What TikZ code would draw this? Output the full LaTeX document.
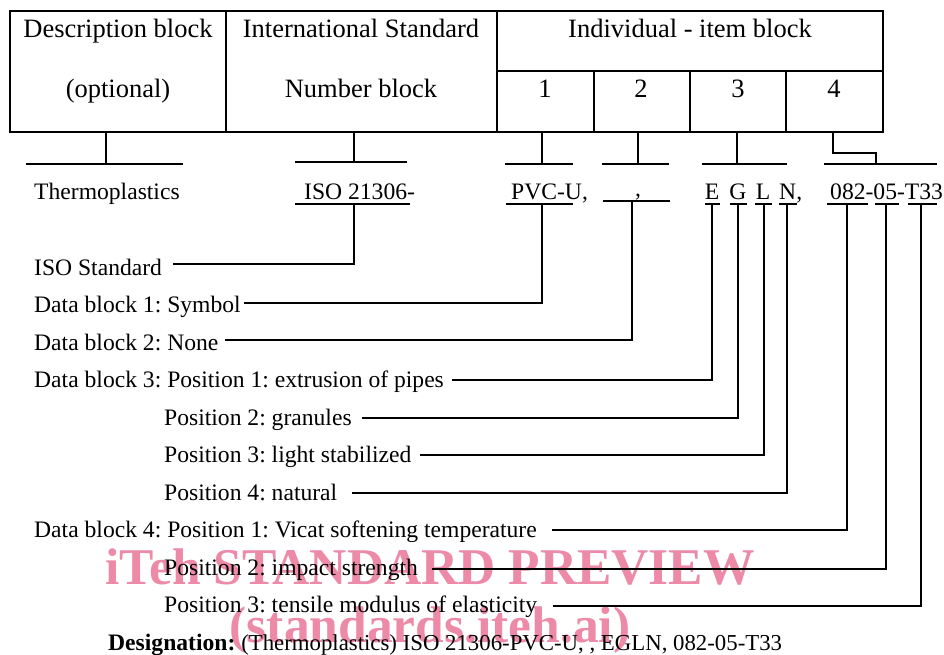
\documentclass[tikz,border=0pt]{standalone}
\usepackage{fontspec}
\setmainfont{Liberation Serif}
\definecolor{wmpink}{RGB}{236,138,168}
\frenchspacing
\begin{document}
\frenchspacing
\begin{tikzpicture}[x=1pt,y=-1pt,
  lbl/.style={anchor=base west, inner sep=0, font=\fontsize{23.6}{26}\selectfont},
  ctr/.style={anchor=base, inner sep=0, font=\fontsize{23.6}{26}\selectfont},
  hd/.style={anchor=base, inner sep=0, font=\fontsize{26.5}{28}\selectfont},
  wm/.style={anchor=base, inner sep=0, text=wmpink, font=\fontsize{51.5}{54}\bfseries\selectfont},
  frame/.style={line width=2pt, line cap=rect},
  ln/.style={line width=1.6pt}]
\useasboundingbox (0,0) rectangle (944,654);

% watermark (underneath)
\node[wm] (wm1) at (430,584) {iTeh STANDARD PREVIEW};
\node[wm] (wm2) at (430,642) {(standards.iteh.ai)};

% table
\draw[frame] (10,11) rectangle (883,132);
\draw[frame] (226,11) -- (226,132);
\draw[frame] (497,11) -- (497,132);
\draw[frame] (497,71) -- (883,71);
\draw[frame] (594,71) -- (594,132);
\draw[frame] (690,71) -- (690,132);
\draw[frame] (786,71) -- (786,132);

\node[hd] (h1) at (118,37) {Description block};
\node[hd] (h2) at (118,97) {(optional)};
\node[hd] (h3) at (361,37) {International Standard};
\node[hd] (h4) at (361,97) {Number block};
\node[hd] (h5) at (690,37) {Individual - item block};
\node[hd] (n1) at (545,97) {1};
\node[hd] (n2) at (641,97) {2};
\node[hd] (n3) at (738,97) {3};
\node[hd] (n4) at (834,97) {4};

% brackets under table
\coordinate (t0) at (106,132); \coordinate (b0) at (106,164);
\coordinate (t1) at (354,132); \coordinate (b1) at (354,162);
\coordinate (t2) at (542,132); \coordinate (b2) at (542,164);
\coordinate (t3) at (638,132); \coordinate (b3) at (638,164);
\coordinate (t4) at (737,132); \coordinate (b4) at (737,164);
\coordinate (t5) at (833,132); \coordinate (b5) at (876,164);
\draw[ln] (t0) -- (b0); \draw[ln] (26,164) -- (183,164);
\draw[ln] (t1) -- (b1); \draw[ln] (295,162) -- (407,162);
\draw[ln] (t2) -- (b2); \draw[ln] (505,164) -- (573,164);
\draw[ln] (t3) -- (b3); \draw[ln] (602,164) -- (669,164);
\draw[ln] (t4) -- (b4); \draw[ln] (702,164) -- (787,164);
\draw[ln] (t5) -- (833,153) -- (876,153) -- (b5); \draw[ln] (824,164) -- (937,164);

% designation row
\node[lbl] (thermo) at (34,199) {Thermoplastics};
\node[lbl] (iso) at (304,199) {ISO 21306-};
\node[lbl] (pvc) at (511,199) {PVC-U,};
\node[ctr] (blk2) at (638,196) {,};
\node[ctr] (E) at (712,199) {E};
\node[ctr] (G) at (738,199) {G};
\node[ctr] (L) at (763,199) {L};
\node[lbl] (N) at (779,199) {N,};
\node[lbl] (code) at (830,199) {082-05-T33};

% underlines
\coordinate (uIso) at (354,204); \draw[ln] (295,204) -- (410,204);
\coordinate (uPvc) at (542,204); \draw[ln] (506,204) -- (573,204);
\coordinate (uB2) at (632,201);  \draw[ln] (603,201) -- (670,201);
\coordinate (uE) at (712,204);   \draw[ln] (705,204) -- (720,204);
\coordinate (uG) at (738,204);   \draw[ln] (730,204) -- (747,204);
\coordinate (uL) at (764,204);   \draw[ln] (755,204) -- (772,204);
\coordinate (uN) at (787,204);   \draw[ln] (779,204) -- (797,204);
\coordinate (uA) at (847,204);   \draw[ln] (827,204) -- (868,204);
\coordinate (uB) at (886,204);   \draw[ln] (875,204) -- (899,204);
\coordinate (uC) at (921,204);   \draw[ln] (908,204) -- (937,204);

% labels
\node[lbl] (l1) at (34,275) {ISO Standard};
\node[lbl] (l2) at (34,312.5) {Data block 1: Symbol};
\node[lbl] (l3) at (34,350) {Data block 2: None};
\node[lbl] (l4) at (34,387.5) {Data block 3: Position 1: extrusion of pipes};
\node[lbl] (l5) at (164,425) {Position 2: granules};
\node[lbl] (l6) at (164,462.5) {Position 3: light stabilized};
\node[lbl] (l7) at (164,500) {Position 4: natural};
\node[lbl] (l8) at (34,537.5) {Data block 4: Position 1: Vicat softening temperature};
\node[lbl] (l9) at (164,575) {Position 2: impact strength};
\node[lbl] (l10) at (164,612.5) {Position 3: tensile modulus of elasticity};
\node[lbl] (des) at (108,650) {\textbf{Designation:} {\fontsize{22.8}{26}\selectfont(Thermoplastics) ISO 21306-PVC-U, , EGLN, 082-05-T33}};

% leader lines
\coordinate (e1) at (173,264);  \draw[ln] (uIso) -- (354,264) -- (e1);
\coordinate (e2) at (244,303);  \draw[ln] (uPvc) -- (542,303) -- (e2);
\coordinate (e3) at (225,340);  \draw[ln] (uB2) -- (632,340) -- (e3);
\coordinate (e4) at (452,380);  \draw[ln] (uE) -- (712,380) -- (e4);
\coordinate (e5) at (362,418);  \draw[ln] (uG) -- (738,418) -- (e5);
\coordinate (e6) at (420,455);  \draw[ln] (uL) -- (764,455) -- (e6);
\coordinate (e7) at (352,493);  \draw[ln] (uN) -- (787,493) -- (e7);
\coordinate (e8) at (552,530);  \draw[ln] (uA) -- (847,530) -- (e8);
\coordinate (e9) at (432,569);  \draw[ln] (uB) -- (886,569) -- (e9);
\coordinate (e10) at (553,606); \draw[ln] (uC) -- (921,606) -- (e10);
\end{tikzpicture}
\end{document}
